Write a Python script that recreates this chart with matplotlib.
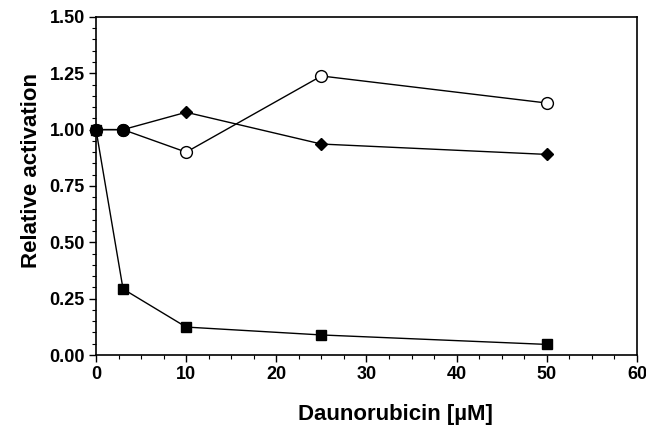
import matplotlib
matplotlib.use('Agg')
import matplotlib.pyplot as plt
from matplotlib.ticker import MultipleLocator, FormatStrFormatter

plt.rcParams['font.family'] = ['Liberation Sans', 'DejaVu Sans']

# Concentraciones y actividades
dose = [0, 3, 10, 25, 50]
open_circle = [1.00, 1.00, 0.90, 1.238, 1.118]
diamond = [1.00, 1.00, 1.077, 0.936, 0.89]
square = [1.00, 0.293, 0.124, 0.089, 0.047]
control_dose = [0, 3]
control = [1.00, 1.00]

fig = plt.figure(figsize=(6.46, 4.34), dpi=100)
ax = fig.add_axes([0.1486, 0.182, 0.8374, 0.779])

ax.plot(dose, square, color='black', lw=1, marker='s', ms=6.5,
        mfc='black', mec='black', zorder=3, clip_on=False)
ax.plot(dose, diamond, color='black', lw=1, marker='D', ms=6,
        mfc='black', mec='black', zorder=3, clip_on=False)
ax.plot(dose, open_circle, color='black', lw=1, marker='o', ms=8.5,
        mfc='white', mec='black', mew=1, zorder=4, clip_on=False)
ax.plot(control_dose, control, ls='none', marker='o', ms=8.5,
        mfc='black', mec='black', zorder=5, clip_on=False)

ax.set_xlim(0, 60)
ax.set_ylim(0, 1.5)
ax.xaxis.set_major_locator(MultipleLocator(10))
ax.xaxis.set_minor_locator(MultipleLocator(2.5))
ax.yaxis.set_major_locator(MultipleLocator(0.25))
ax.yaxis.set_minor_locator(MultipleLocator(0.05))
ax.yaxis.set_major_formatter(FormatStrFormatter('%.2f'))

ax.tick_params(which='major', direction='out', length=5, width=1,
               labelsize=13, pad=3)
ax.tick_params(which='minor', direction='out', length=3, width=0.8)
for lab in ax.get_xticklabels() + ax.get_yticklabels():
    lab.set_fontweight('bold')

for s in ax.spines.values():
    s.set_linewidth(1.2)

ax.set_xlabel('Daunorubicin [µM]', fontsize=16, fontweight='bold')
ax.set_ylabel('Relative activation', fontsize=16, fontweight='bold')
ax.xaxis.set_label_coords(0.553, -0.145)
ax.yaxis.set_label_coords(-0.10, 0.547)

fig.savefig('out.png', dpi=100)
